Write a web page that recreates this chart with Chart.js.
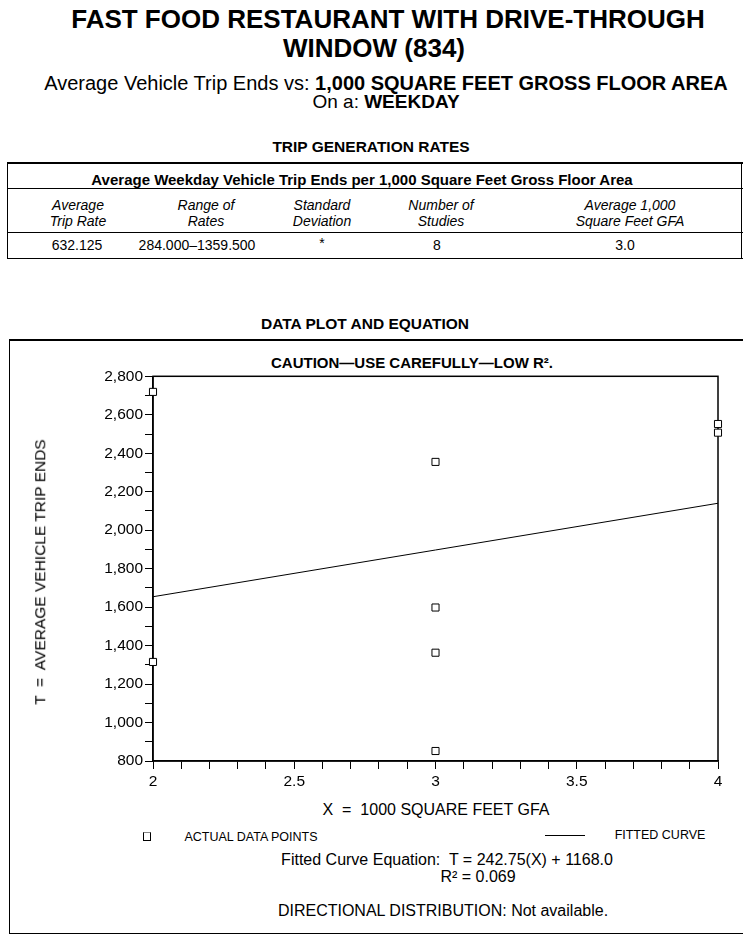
<!DOCTYPE html>
<html>
<head>
<meta charset="utf-8">
<script src="https://cdn.jsdelivr.net/npm/chart.js@4.4.1/dist/chart.umd.min.js"></script>
<style>
  html, body { margin: 0; padding: 0; background: #fff; }
  body { width: 743px; height: 940px; position: relative; overflow: hidden;
         font-family: "Liberation Sans", Arial, sans-serif; color: #000; }
  .t { position: absolute; white-space: pre; line-height: 1; transform: translate(-50%, -50%); }
  .b { font-weight: bold; }
  .i { font-style: italic; }
  .hl { position: absolute; background: #000; height: 1px; }
  .vl { position: absolute; background: #000; width: 1px; }
  #plot { position: absolute; left: 10px; top: 365px; }
</style>
</head>
<body>

<div class="t b" style="left:388px;top:19px;font-size:26px">FAST FOOD RESTAURANT WITH DRIVE-THROUGH</div>
<div class="t b" style="left:374px;top:48px;font-size:26px">WINDOW (834)</div>
<div class="t" style="left:386px;top:83px;font-size:20px">Average Vehicle Trip Ends vs: <b>1,000 SQUARE FEET GROSS FLOOR AREA</b></div>
<div class="t" style="left:386px;top:101px;font-size:19px">On a: <b>WEEKDAY</b></div>

<div class="t b" style="left:371px;top:147px;font-size:15.5px">TRIP GENERATION RATES</div>

<!-- rates table -->
<div class="hl" style="left:7px;top:162px;width:736px;height:2px"></div>
<div class="hl" style="left:7px;top:188px;width:736px"></div>
<div class="hl" style="left:7px;top:232px;width:736px"></div>
<div class="hl" style="left:7px;top:258px;width:736px"></div>
<div class="vl" style="left:7px;top:162px;height:97px"></div>
<div class="vl" style="left:741px;top:162px;height:97px"></div>
<div class="t b" style="left:362px;top:179px;font-size:15px">Average Weekday Vehicle Trip Ends per 1,000 Square Feet Gross Floor Area</div>
<div class="t i" style="left:78px;top:205px;font-size:14px">Average</div>
<div class="t i" style="left:78px;top:221px;font-size:14px">Trip Rate</div>
<div class="t i" style="left:206px;top:205px;font-size:14px">Range of</div>
<div class="t i" style="left:206px;top:221px;font-size:14px">Rates</div>
<div class="t i" style="left:322px;top:205px;font-size:14px">Standard</div>
<div class="t i" style="left:322px;top:221px;font-size:14px">Deviation</div>
<div class="t i" style="left:441px;top:205px;font-size:14px">Number of</div>
<div class="t i" style="left:441px;top:221px;font-size:14px">Studies</div>
<div class="t i" style="left:630px;top:205px;font-size:14px">Average 1,000</div>
<div class="t i" style="left:630px;top:221px;font-size:14px">Square Feet GFA</div>
<div class="t" style="left:77px;top:245px;font-size:14px">632.125</div>
<div class="t" style="left:197px;top:245px;font-size:14px">284.000–1359.500</div>
<div class="t" style="left:322px;top:243px;font-size:14px">*</div>
<div class="t" style="left:437px;top:245px;font-size:14px">8</div>
<div class="t" style="left:625px;top:245px;font-size:14px">3.0</div>

<div class="t b" style="left:365px;top:324px;font-size:15.5px">DATA PLOT AND EQUATION</div>

<!-- plot box -->
<div class="hl" style="left:9px;top:339px;width:734px;height:2px"></div>
<div class="vl" style="left:9px;top:339px;height:595px"></div>
<div class="hl" style="left:9px;top:933px;width:734px"></div>

<div class="t b" style="left:412px;top:362px;font-size:15px">CAUTION—USE CAREFULLY—LOW R².</div>

<canvas id="plot" width="733" height="426"></canvas>

<div class="t" style="left:40px;top:572px;font-size:15.5px;transform:translate(-50%,-50%) rotate(-90deg)">T  =  AVERAGE VEHICLE TRIP ENDS</div>
<div class="t" style="left:436px;top:810px;font-size:16px">X  =  1000 SQUARE FEET GFA</div>

<!-- legend -->
<div style="position:absolute;left:143px;top:832px;width:6px;height:7px;border:1px solid #000;border-top-color:#888"></div>
<div class="t" style="left:251px;top:837px;font-size:12.5px">ACTUAL DATA POINTS</div>
<div class="hl" style="left:545px;top:835px;width:40px"></div>
<div class="t" style="left:660px;top:835px;font-size:12.5px">FITTED CURVE</div>

<div class="t" style="left:447px;top:860px;font-size:16px">Fitted Curve Equation:  T = 242.75(X) + 1168.0</div>
<div class="t" style="left:478px;top:877px;font-size:16px">R² = 0.069</div>
<div class="t" style="left:443px;top:911px;font-size:16px">DIRECTIONAL DISTRIBUTION: Not available.</div>

<script>
// studies: x = 1000 sq ft GFA, t = average weekday vehicle trip ends
var studyX = [2, 2, 3, 3, 3, 3, 4, 4];
var tripEnds = [2719, 1315, 2355, 1598, 1363, 852, 2552, 2507];

// fitted curve T = 242.75(X) + 1168.0, ends of the drawn segment
var fitX = [2, 4];
var fitT = [1654, 2140];

// labelled ticks
var yLabels = [800, 1000, 1200, 1400, 1600, 1800, 2000, 2200, 2400, 2600, 2800];
var xLabels = [2, 2.5, 3, 3.5, 4];

var font = { family: '"Liberation Sans", Arial, sans-serif', size: 15.5 };

function near(list, v) {
    for (var i = 0; i < list.length; i++) {
        if (Math.abs(list[i] - v) < 1e-6) return true;
    }
    return false;
}

// box round the plot area
var frame = {
    id: 'frame',
    beforeDatasetsDraw: function(chart) {
        var a = chart.chartArea, ctx = chart.ctx;
        ctx.save();
        ctx.strokeStyle = '#000';
        ctx.lineWidth = 1.5;
        ctx.strokeRect(a.left, a.top, a.right - a.left, a.bottom - a.top);
        ctx.restore();
    }
};

new Chart(document.getElementById('plot'), {
    type: 'scatter',
    data: {
        datasets: [
            {
                data: studyX.map(function(x, i) { return { x: x, y: tripEnds[i] } }),
                pointStyle: 'rect',
                pointRadius: 5,
                pointBorderWidth: 1,
                pointBorderColor: '#000',
                pointBackgroundColor: '#fff',
                clip: false
            },
            {
                data: fitX.map(function(x, i) { return { x: x, y: fitT[i] } }),
                showLine: true,
                pointRadius: 0,
                borderColor: '#000',
                borderWidth: 1,
                clip: false
            }
        ]
    },
    options: {
        responsive: false,
        animation: false,
        devicePixelRatio: 1,
        layout: { padding: { top: 8, right: 25, left: 0, bottom: 0 } },
        plugins: { legend: { display: false }, tooltip: { enabled: false } },
        scales: {
            x: {
                type: 'linear', min: 2, max: 4,
                afterFit: function(s) { s.height = 30 },
                grid: { drawOnChartArea: false, tickLength: 8, color: '#000', lineWidth: 1 },
                border: { color: '#000', width: 1.5 },
                ticks: {
                    stepSize: 0.1, autoSkip: false, maxRotation: 0, padding: 3,
                    color: '#000', font: font,
                    callback: function(v) { return near(xLabels, v) ? String(Math.round(v * 10) / 10) : '' }
                }
            },
            y: {
                min: 800, max: 2800,
                afterFit: function(s) { s.width = 143 },
                grid: { drawOnChartArea: false, tickLength: 8, color: '#000', lineWidth: 1 },
                border: { color: '#000', width: 1.5 },
                ticks: {
                    stepSize: 100, autoSkip: false, padding: 2,
                    color: '#000', font: font,
                    callback: function(v) { return near(yLabels, v) ? v.toLocaleString('en-US') : '' }
                }
            }
        }
    },
    plugins: [frame]
});
</script>
</body>
</html>
